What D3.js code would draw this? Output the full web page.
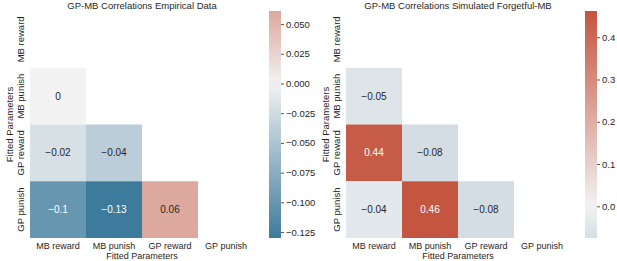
<!DOCTYPE html>
<html>
<head>
<meta charset="utf-8">
<script src="https://cdn.jsdelivr.net/npm/d3@7"></script>
<style>
  body { margin: 0; background: #fff; }
  text { font-family: "Liberation Sans", Arial, sans-serif; fill: #262626; }
</style>
</head>
<body>
<div id="chart"></div>
<script>
// parameter names (rows / columns)
var params = ["MB reward", "MB punish", "GP reward", "GP punish"];

// lower triangle values, row by row (row 0 is fully masked)
var empiricalValues = [
  [],
  [0],
  [-0.02, -0.04],
  [-0.1, -0.13, 0.06]
];
var simulatedValues = [
  [],
  [-0.05],
  [0.44, -0.08],
  [-0.04, 0.46, -0.08]
];

// colour bar ranges (min / max of the unrounded data)
var empiricalRange = [-0.130, 0.061];
var simulatedRange = [-0.075, 0.462];
var empiricalTicks = [0.05, 0.025, 0, -0.025, -0.05, -0.075, -0.1, -0.125];
var simulatedTicks = [0.4, 0.3, 0.2, 0.1, 0.0];

var titles = ["GP-MB Correlations Empirical Data", "GP-MB Correlations Simulated Forgetful-MB"];

var W = 617, H = 261;
var svg = d3.select("#chart").append("svg")
    .attr("width", W)
    .attr("height", H);

// seaborn diverging_palette(220, 20) -> blend in rgb through light grey
var negColor = "#3d7b9c", midColor = "#f2f2f2", posColor = "#c4543e";
function makeColor(range) {
  var vr = Math.max(Math.abs(range[0]), Math.abs(range[1]));
  return function(v) {
    var t = Math.max(-1, Math.min(1, v / vr));
    if (t < 0) return d3.interpolateRgb(midColor, negColor)(-t);
    return d3.interpolateRgb(midColor, posColor)(t);
  };
}

function fmtMinus(s) { return s.replace("-", "\u2212"); }

function drawPanel(left, values, range, ticks, tickFmt, title, id) {
  var g = svg.append("g").attr("transform", "translate(" + left + ",0)");
  var gridW = 224, top = 11, bottom = 238;
  var color = makeColor(range);

  var x = d3.scaleBand().domain(params).range([0, gridW]);
  var y = d3.scaleBand().domain(params).range([top, bottom]);

  // title
  g.append("text")
    .attr("x", gridW / 2)
    .attr("y", 9)
    .attr("text-anchor", "middle")
    .style("font-size", "9.5px")
    .text(title);

  // cells
  var cells = [];
  values.forEach(function(row, i) {
    row.forEach(function(v, j) {
      cells.push({r: params[i], c: params[j], v: v});
    });
  });

  var cg = g.selectAll(".cell")
    .data(cells)
    .enter()
    .append("g");

  cg.append("rect")
    .attr("x", function(d) { return x(d.c); })
    .attr("y", function(d) { return y(d.r); })
    .attr("width", x.bandwidth())
    .attr("height", y.bandwidth())
    .attr("fill", function(d) { return color(d.v); });

  cg.append("text")
    .attr("x", function(d) { return x(d.c) + x.bandwidth() / 2; })
    .attr("y", function(d) { return y(d.r) + y.bandwidth() / 2; })
    .attr("dy", "0.35em")
    .attr("text-anchor", "middle")
    .style("font-size", "10px")
    .style("fill", function(d) {
      var c = d3.rgb(color(d.v));
      var lum = 0.2126 * c.r + 0.7152 * c.g + 0.0722 * c.b;
      return lum < 150 ? "#ffffff" : "#262626";
    })
    .text(function(d) { return d3.format(".2~g")(d.v); });

  // x tick labels
  g.selectAll(".xt")
    .data(params)
    .enter()
    .append("text")
    .attr("x", function(d) { return x(d) + x.bandwidth() / 2; })
    .attr("y", bottom + 11)
    .attr("text-anchor", "middle")
    .style("font-size", "9px")
    .text(function(d) { return d; });

  g.append("text")
    .attr("x", gridW / 2)
    .attr("y", bottom + 21)
    .attr("text-anchor", "middle")
    .style("font-size", "9px")
    .text("Fitted Parameters");

  // y tick labels
  g.selectAll(".yt")
    .data(params)
    .enter()
    .append("text")
    .attr("transform", function(d) {
      return "translate(-6," + (y(d) + y.bandwidth() / 2) + ")rotate(-90)";
    })
    .attr("text-anchor", "middle")
    .style("font-size", "9.5px")
    .text(function(d) { return d; });

  g.append("text")
    .attr("transform", "translate(-17," + ((top + bottom) / 2) + ")rotate(-90)")
    .attr("text-anchor", "middle")
    .style("font-size", "9.5px")
    .text("Fitted Parameters");

  // colour bar
  var cbx = gridW + 15, cbw = 12;
  var cy = d3.scaleLinear().domain(range).range([bottom, top]);

  var grad = svg.append("defs").append("linearGradient")
    .attr("id", id)
    .attr("x1", 0).attr("y1", 1).attr("x2", 0).attr("y2", 0);
  d3.range(0, 1.0001, 0.05).forEach(function(t) {
    var v = range[0] + t * (range[1] - range[0]);
    grad.append("stop")
      .attr("offset", t)
      .attr("stop-color", color(v));
  });

  g.append("rect")
    .attr("x", cbx)
    .attr("y", top)
    .attr("width", cbw)
    .attr("height", bottom - top)
    .attr("fill", "url(#" + id + ")");

  var axis = d3.axisRight(cy)
    .tickValues(ticks)
    .tickSize(3)
    .tickPadding(2)
    .tickFormat(function(d) { return fmtMinus(d3.format(tickFmt)(d)); });

  var ag = g.append("g")
    .attr("transform", "translate(" + (cbx + cbw) + ",0)")
    .call(axis);
  ag.select(".domain").remove();
  ag.selectAll("line").attr("stroke", "#555");
  ag.selectAll("text")
    .style("font-size", "9.5px")
    .style("font-family", "'Liberation Sans', Arial, sans-serif")
    .attr("fill", "#262626");
}

drawPanel(30, empiricalValues, empiricalRange, empiricalTicks, ".3f", titles[0], "gradA");
drawPanel(346, simulatedValues, simulatedRange, simulatedTicks, ".1f", titles[1], "gradB");
</script>
</body>
</html>
